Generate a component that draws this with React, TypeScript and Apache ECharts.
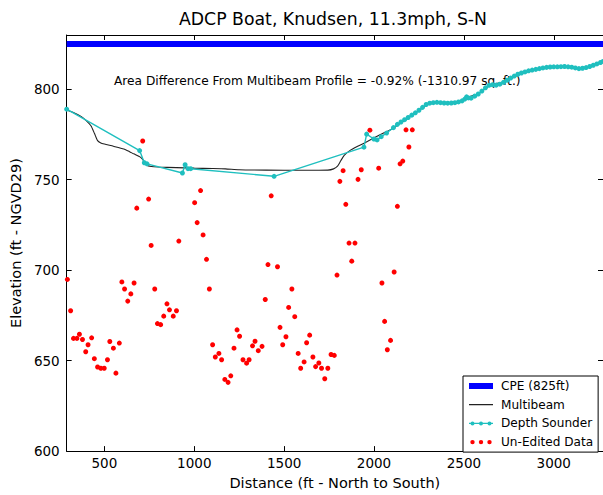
import React, { useEffect, useRef } from "react";
import * as echarts from "echarts";

const FONT = '"DejaVu Sans", "Liberation Sans", sans-serif';

const titleText = "ADCP Boat, Knudsen, 11.3mph, S-N";
const noteText = "Area Difference From Multibeam Profile = -0.92% (-1310.97 sq. ft.)";
const xName = "Distance (ft - North to South)";
const yName = "Elevation (ft - NGVD29)";
const seriesNames = ["CPE (825ft)", "Multibeam", "Depth Sounder", "Un-Edited Data"];

const cpeX = [290, 3274];
const cpeY = [825, 825];

const multibeamX = [
  290, 330, 370, 400, 425, 445, 462, 480, 500, 550, 608, 640, 663, 700, 718, 736, 760, 800, 900, 1000,
  1100, 1173, 1250, 1400, 1600, 1743, 1775, 1797, 1815, 1834, 1871, 1950, 2036, 2108, 2150, 2218, 2282,
  2328, 2401, 2465, 2520, 2584, 2648, 2731, 2785, 2840, 2895, 2950, 3023, 3096, 3151, 3188, 3225, 3274,
];
const multibeamY = [
  788.5, 787, 785, 782.5, 779.8, 775.5, 771.6, 770.3, 769.7, 768.5, 767, 765.5, 764.3, 762.5, 760.6, 758,
  757.3, 757, 756.7, 756.4, 756.2, 756, 755.5, 755.3, 755.2, 755.3, 756, 757.5, 760.5, 763.4, 766.5, 770.5,
  775, 778.5, 781.5, 786, 790.5, 792.4, 792.6, 792.6, 795.5, 797.8, 802.3, 804.2, 807, 809.4, 810.6, 811.6,
  812.2, 812, 811.2, 812, 813.4, 815.5,
];

const sounderX = [
  290, 696, 722, 737, 934, 949, 965, 980, 1444, 1944, 1959, 1999, 2017, 2040, 2070, 2108, 2130,
  2150, 2170, 2190, 2210, 2230, 2250, 2270, 2290, 2310, 2330, 2350, 2370, 2390, 2410, 2430, 2450, 2470,
  2490, 2505, 2515, 2525, 2540, 2560, 2580, 2600, 2620, 2640, 2660, 2680, 2700, 2720, 2740, 2760, 2780,
  2800, 2820, 2840, 2860, 2880, 2900, 2920, 2940, 2960, 2980, 3000, 3020, 3040, 3060, 3080, 3100, 3120,
  3140, 3160, 3180, 3200, 3220, 3240, 3260, 3274,
];
const sounderY = [
  789, 766.1, 759.4, 758.8, 753.7, 758.3, 756.1, 756.1, 751.9, 768, 775.2, 772.5, 772, 773.8, 775.8, 778.8,
  780.6, 781.9, 783.2, 784.4, 785.7, 787.0, 788.4, 790.0, 791.6, 792.3, 792.6, 792.8, 792.6, 792.4, 792.3,
  792.4, 792.6, 793.0, 793.6, 794.6, 795.8, 795.2, 795.1, 796.2, 797.4, 799.0, 800.8, 802.2, 802.5, 802.3,
  802.8, 803.8, 805.0, 806.2, 807.3, 808.3, 809.0, 809.6, 810.2, 810.6, 811.0, 811.4, 811.8, 812.1, 812.3,
  812.4, 812.4, 812.5, 812.6, 812.4, 812.2, 811.8, 811.4, 811.6, 812.0, 812.6, 813.3, 814.0, 814.8, 815.4,
];

const rawX = [
  294, 312, 328, 347, 361, 378, 396, 409, 429, 444, 462, 480, 499, 517, 530, 550, 564, 583, 597, 612, 630,
  647, 665, 680, 713, 746, 760, 780, 795, 813, 830, 848, 862, 883, 901, 914, 1002, 1016, 1035, 1049, 1068,
  1084, 1102, 1117, 1137, 1152, 1170, 1188, 1203, 1221, 1238, 1252, 1271, 1291, 1305, 1324, 1338, 1356,
  1377, 1395, 1410, 1428, 1463, 1477, 1492, 1510, 1525, 1543, 1559, 1578, 1592, 1611, 1625, 1642, 1660,
  1675, 1693, 1708, 1726, 1743, 1761, 1779, 1794, 1810, 1828, 1843, 1861, 1876, 1894, 1911, 1929, 1977,
  2026, 2044, 2059, 2074, 2092, 2112, 2130, 2145, 2160, 2178, 2194, 2213,
];
const rawY = [
  694.9, 677.6, 662.3, 662.3, 664.6, 661.7, 654.9, 658.8, 662.6, 651.1, 646.5, 645.8, 645.8, 650.5, 660.6,
  656.9, 643.1, 659.7, 693.5, 689.6, 682.9, 686.9, 692.9, 734.3, 771.4, 739.3, 713.7, 689.6, 670.5, 669.9,
  674.6, 681.4, 678.1, 674.6, 677.6, 716.1, 737.3, 726.3, 744, 719.5, 706, 689.6, 658.8, 652, 654, 650.5,
  639.6, 638, 641.6, 656.9, 667, 663.5, 650.5, 648.6, 650.5, 658.2, 660.7, 655.5, 657.9, 683.8, 703.1,
  741.1, 701.9, 668.4, 658.8, 663.2, 679.4, 689.6, 674.3, 654, 645.8, 649.3, 659.9, 664.1, 652, 646.7,
  648.7, 645.8, 640, 645.8, 653.4, 652.9, 697.3, 749.1, 755, 736.4, 715, 705, 715, 750.2, 755.5, 777.4,
  756.4, 692.9, 671.7, 656, 661.2, 699, 735.3, 758.8, 760.3, 777.6, 768.1, 777.6,
];

const xMin = 290;
const xMax = 3274;
const yMin = 600;
const yMax = 830;
const yStep = 50;

const zip = (xs: number[], ys: number[]) => xs.map((x, i) => [x, ys[i]]);

const corners = "M0,0h0.01v0.01h-0.01Z M26.99,5.99h0.01v0.01h-0.01Z ";
const circ = (cx: number, r: number) =>
  `M${cx - r},3a${r},${r} 0 1,1 ${2 * r},0a${r},${r} 0 1,1 ${-2 * r},0Z `;
const iconCPE = "path://" + corners + "M0,0H24V6H0Z";
const iconMB = "path://" + corners + "M0,2.4H24V3.6H0Z";
const iconDS = "path://" + corners + "M0,2.4H24V3.6H0Z " + circ(3.5, 2) + circ(12, 2) + circ(20.5, 2);
const iconRaw = "path://" + corners + circ(3.5, 2.2) + circ(12, 2.2) + circ(20.5, 2.2);

export default function App() {
  const ref = useRef<HTMLDivElement>(null);
  useEffect(() => {
    if (!ref.current) return;
    const chart = echarts.init(ref.current, undefined, { renderer: "svg" });
    const axisCommon = {
      axisLine: { show: true, onZero: false, lineStyle: { color: "#000", width: 1 } },
      axisTick: { show: true, inside: true, length: 5, lineStyle: { color: "#000", width: 1 } },
      splitLine: { show: false },
    };
    const labelStyle = { color: "#000", fontFamily: FONT, fontSize: 13.5 };
    chart.setOption({
      animation: false,
      backgroundColor: "#fff",
      textStyle: { fontFamily: FONT },
      grid: { left: 62, top: 35, width: 542, height: 420, containLabel: false },
      xAxis: [
        {
          type: "value",
          position: "bottom",
          min: xMin,
          max: xMax,
          ...axisCommon,
          axisLabel: {
            ...labelStyle,
            margin: 5,
            showMinLabel: false,
            showMaxLabel: false,
            formatter: (v: number) => String(v),
          },
          name: xName,
          nameLocation: "middle",
          nameGap: 20,
          nameTextStyle: { color: "#000", fontFamily: FONT, fontSize: 14.5 },
        },
        {
          type: "value",
          position: "top",
          min: xMin,
          max: xMax,
          ...axisCommon,
          axisLabel: { show: false },
        },
      ],
      yAxis: [
        {
          type: "value",
          position: "left",
          min: yMin,
          max: yMax,
          interval: yStep,
          ...axisCommon,
          axisLabel: { ...labelStyle, margin: 7, showMaxLabel: false, formatter: (v: number) => String(v) },
          name: yName,
          nameLocation: "middle",
          nameGap: 36,
          nameRotate: 90,
          nameTextStyle: { color: "#000", fontFamily: FONT, fontSize: 14.5 },
        },
        {
          type: "value",
          position: "right",
          min: yMin,
          max: yMax,
          interval: yStep,
          ...axisCommon,
          axisLabel: { show: false },
        },
      ],
      legend: {
        orient: "vertical",
        left: 463,
        top: 376,
        align: "left",
        itemWidth: 27,
        itemHeight: 6,
        itemGap: 5.7,
        padding: [3.5, 5, 3.5, 6],
        borderColor: "#000",
        borderWidth: 1,
        backgroundColor: "#fff",
        selectedMode: false,
        itemStyle: { borderWidth: 0 },
        textStyle: { color: "#000", fontFamily: FONT, fontSize: 12.1, lineHeight: 13 },
        data: [
          { name: seriesNames[0], icon: iconCPE },
          { name: seriesNames[1], icon: iconMB },
          { name: seriesNames[2], icon: iconDS },
          { name: seriesNames[3], icon: iconRaw },
        ],
      },
      graphic: [
        {
          type: "text",
          x: 333,
          y: 19,
          style: {
            text: titleText,
            fontSize: 17.3,
            fontFamily: FONT,
            fill: "#000",
            align: "center",
            verticalAlign: "middle",
            textAlign: "center",
            textVerticalAlign: "middle",
          },
        },
        {
          type: "text",
          x: 114,
          y: 81,
          style: {
            text: noteText,
            fontSize: 12.2,
            fontFamily: FONT,
            fill: "#000",
            align: "left",
            verticalAlign: "middle",
            textAlign: "left",
            textVerticalAlign: "middle",
          },
        },
      ],
      series: [
        {
          name: seriesNames[0],
          type: "line",
          data: zip(cpeX, cpeY),
          symbol: "none",
          itemStyle: { color: "#0000ff" },
          lineStyle: { color: "#0000ff", width: 6 },
          silent: true,
        },
        {
          name: seriesNames[1],
          type: "line",
          data: zip(multibeamX, multibeamY),
          symbol: "none",
          smooth: 0.2,
          itemStyle: { color: "#222222" },
          lineStyle: { color: "#222222", width: 1.1 },
          silent: true,
        },
        {
          name: seriesNames[2],
          type: "line",
          data: zip(sounderX, sounderY),
          symbol: "circle",
          symbolSize: 5,
          showSymbol: true,
          showAllSymbol: true,
          itemStyle: { color: "#1fbfbf", borderWidth: 0 },
          lineStyle: { color: "#1fbfbf", width: 1.4 },
          silent: true,
        },
        {
          name: seriesNames[3],
          type: "scatter",
          data: zip(rawX, rawY),
          symbol: "circle",
          symbolSize: 5,
          itemStyle: { color: "#ff0000", opacity: 1 },
          silent: true,
        },
      ],
    });
    return () => chart.dispose();
  }, []);
  return (
    <div
      ref={ref}
      style={{ position: "fixed", left: 0, top: 0, width: 603, height: 495, background: "#fff" }}
    />
  );
}
